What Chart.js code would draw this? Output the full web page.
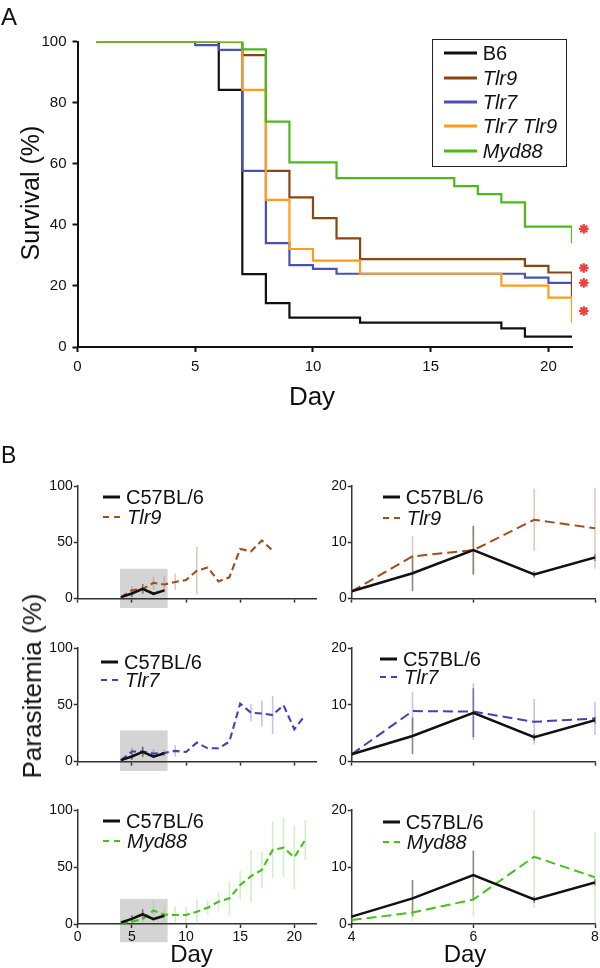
<!DOCTYPE html>
<html>
<head>
<meta charset="utf-8">
<title>Survival and parasitemia</title>
<script src="https://cdn.jsdelivr.net/npm/chart.js@4.4.1/dist/chart.umd.min.js"></script>
<style>
  body { margin: 0; background: #fff; }
  #page { position: relative; width: 600px; height: 968px; overflow: hidden;
          font-family: 'Liberation Sans', Arial, Helvetica, sans-serif; color: #111; }
  #page canvas { position: absolute; }
  .txt { position: absolute; white-space: nowrap; line-height: 1; }
  .mid { transform: translate(-50%, -50%); }
  .vmid { transform: translateY(-50%); }
  .rot { transform: translate(-50%, -50%) rotate(-90deg); }
  .legbox { position: absolute; border: 1.5px solid #222; box-sizing: border-box; }
  svg { position: absolute; overflow: visible; }
</style>
</head>
<body>
<div id="page"></div>
<script>
// ---------- A: survival, Kaplan-Meier steps (day of drop, % alive from then on)
const survStart = 0.8;
const b6Days    = [survStart, 6, 7, 8, 9, 12, 18, 19, 21];
const b6Surv    = [100, 84.2, 23.9, 14.4, 9.6, 8, 6.1, 3.4, 3.4];
const tlr9Days  = [survStart, 7, 8, 9, 10, 11, 12, 19, 20, 21];
const tlr9Surv  = [100, 95.6, 57.7, 49, 42.2, 35.6, 28.8, 26.6, 24.4, 16.5];
const tlr7Days  = [survStart, 5, 6, 7, 8, 9, 10, 11, 19, 20, 21];
const tlr7Surv  = [100, 98.9, 97.3, 57.7, 34, 26.8, 25.6, 24, 22.7, 21, 18];
const dkoDays   = [survStart, 7, 8, 9, 10, 12, 18, 20, 21];
const dkoSurv   = [100, 84.2, 48.2, 32.1, 28.3, 24, 20.1, 16.2, 8];
const myd88Days = [survStart, 7, 8, 9, 11, 16, 17, 18, 19, 21];
const myd88Surv = [100, 97.5, 73.8, 60.5, 55.3, 52.7, 50.1, 47.4, 39.4, 34];
const sigDay  = 21.5;
const sigSurv = [38.7, 25.9, 21, 11.8];
const survXTicks = [0, 5, 10, 15, 20];
const survYTicks = [0, 20, 40, 60, 80, 100];
const survLegend = ['B6', 'Tlr9', 'Tlr7', 'Tlr7 Tlr9', 'Myd88'];

// ---------- B: parasitemia, mean and SD per day
const paraDays     = [4, 5, 6, 7, 8, 9, 10, 11, 12, 13, 14, 15, 16, 17, 18, 19, 20, 21];
const b6Para       = [1.3, 4.5, 8.6, 4.3, 7.3];
const b6ParaErr    = [0.3, 3.2, 4.3, 0.6, 0.6];
const tlr9Para     = [1.3, 7.5, 8.6, 14, 12.5, 14.8, 16.5, 24.8, 27.7, 15.3, 18.9, 44, 42, 51.6, 42.5];
const tlr9ParaErr  = [0.3, 3.6, 4.4, 5.5, 7.2, 7.2, 1, 21, 0, 0, 0, 0, 0, 0, 0];
const tlr7Para     = [1.3, 8.9, 8.8, 7, 7.6, 9.4, 8.5, 16.7, 11.7, 11.7, 17.5, 51, 43, 42.4, 41, 49.7, 28.4, 41];
const tlr7ParaErr  = [0.3, 3.4, 5, 4, 2.9, 5, 0, 0, 0, 0, 0, 0, 7.8, 11.4, 16.8, 0, 0, 0];
const myd88Para    = [0.7, 2, 4.3, 11.8, 8.2, 7.9, 7.9, 10.8, 14.3, 19.6, 22.5, 34.2, 42, 47.4, 65, 67, 58.5, 73.7];
const myd88ParaErr = [0.3, 1.5, 3, 9, 8, 7.3, 7, 10.5, 6, 8, 15, 12.5, 23, 16, 25, 26, 28, 17.5];
const paraXTicks = [0, 5, 10, 15, 20];
const paraYTicks = [0, 50, 100];
const zoomXTicks = [4, 6, 8];
const zoomYTicks = [0, 10, 20];
const zoomBoxDays = [3.9, 8.3];
const zoomBoxPct  = [[-14, 26.5], [-12, 27.5], [-16, 22]];

const page = document.getElementById('page');
const FONT = "'Liberation Sans', Arial, Helvetica, sans-serif";
Chart.defaults.font.family = FONT;
Chart.defaults.color = '#111';
Chart.defaults.animation = false;
Chart.defaults.plugins.legend.display = false;
Chart.defaults.plugins.tooltip.enabled = false;

const toXY = (xs, ys) => ys.map((y, i) => ({ x: xs[i], y }));

// grey rectangle marking the zoomed days, drawn under the axes
const zoomBox = {
  id: 'zoomBox',
  beforeDraw(chart, args, opts) {
    if (!opts.days) return;
    const { ctx, scales: { x, y } } = chart;
    const x0 = x.getPixelForValue(opts.days[0]), x1 = x.getPixelForValue(opts.days[1]);
    const y0 = y.getPixelForValue(opts.pct[1]), y1 = y.getPixelForValue(opts.pct[0]);
    ctx.save();
    ctx.fillStyle = opts.color;
    ctx.fillRect(x0, y0, x1 - x0, y1 - y0);
    ctx.restore();
  }
};

// vertical SD bars, behind the lines
const errorBars = {
  id: 'errorBars',
  beforeDatasetsDraw(chart) {
    const { ctx, chartArea: a, scales: { x, y } } = chart;
    ctx.save();
    ctx.beginPath();
    ctx.rect(a.left - 3, a.top, a.right - a.left + 6, a.bottom - a.top);
    ctx.clip();
    chart.data.datasets.forEach(ds => {
      if (!ds.errors) return;
      ctx.beginPath();
      ds.data.forEach((p, j) => {
        const e = ds.errors[j];
        if (!e || p.x < x.min || p.x > x.max) return;
        const px = x.getPixelForValue(p.x);
        ctx.moveTo(px, y.getPixelForValue(p.y - e));
        ctx.lineTo(px, y.getPixelForValue(p.y + e));
      });
      ctx.strokeStyle = ds.errorColor;
      ctx.lineWidth = 1.6;
      ctx.stroke();
    });
    ctx.restore();
  }
};

// red significance asterisks at the end of the survival curves
const sigStars = {
  id: 'sigStars',
  afterDatasetsDraw(chart, args, opts) {
    if (!opts.values) return;
    const { ctx, scales: { x, y } } = chart;
    const px = x.getPixelForValue(opts.day);
    ctx.save();
    ctx.strokeStyle = opts.color;
    ctx.lineWidth = 2.2;
    opts.values.forEach(v => {
      const py = y.getPixelForValue(v);
      ctx.beginPath();
      for (let k = 0; k < 4; k++) {
        const ang = k * Math.PI / 4, dx = Math.cos(ang) * opts.radius, dy = Math.sin(ang) * opts.radius;
        ctx.moveTo(px - dx, py - dy);
        ctx.lineTo(px + dx, py + dy);
      }
      ctx.stroke();
    });
    ctx.restore();
  }
};

Chart.register(zoomBox, errorBars, sigStars);

function axis(min, max, ticks, o) {
  return {
    type: 'linear', min, max,
    afterBuildTicks: s => { s.ticks = ticks.map(value => ({ value })); },
    afterFit: s => { if (s.isHorizontal()) s.height = o.size; else s.width = o.size; },
    grid: { display: true, drawOnChartArea: false, drawTicks: true,
            tickLength: o.tick, tickWidth: o.lw, tickColor: o.color },
    border: { display: true, color: o.color, width: o.lw },
    ticks: { display: o.labels !== false, padding: o.pad, font: { size: o.font },
             color: '#111', maxRotation: 0, autoSkip: false }
  };
}

// rect: canvas [left, top, w, h]; area: wanted chart area [l, t, r, b]
function mount(rect, area, yW, xH, config) {
  const cv = document.createElement('canvas');
  cv.width = rect[2]; cv.height = rect[3];
  Object.assign(cv.style, { left: rect[0] + 'px', top: rect[1] + 'px',
                            width: rect[2] + 'px', height: rect[3] + 'px' });
  page.appendChild(cv);
  config.options.responsive = false;
  config.options.maintainAspectRatio = false;
  config.options.layout = { padding: {
    left: area[0] - rect[0] - yW, top: area[1] - rect[1],
    right: rect[0] + rect[2] - area[2], bottom: rect[1] + rect[3] - area[3] - xH } };
  return new Chart(cv, config);
}

function text(html, x, y, size, cls, style) {
  const d = document.createElement('div');
  d.className = 'txt ' + (cls || '');
  d.innerHTML = html;
  Object.assign(d.style, { left: x + 'px', top: y + 'px', fontSize: size + 'px' }, style || {});
  page.appendChild(d);
  return d;
}

function sampleLine(x, y, w, color, lw, dash) {
  const ns = 'http://www.w3.org/2000/svg';
  const s = document.createElementNS(ns, 'svg');
  s.setAttribute('width', w); s.setAttribute('height', 6);
  s.style.left = x + 'px'; s.style.top = (y - 3) + 'px';
  const l = document.createElementNS(ns, 'line');
  l.setAttribute('x1', 0); l.setAttribute('y1', 3); l.setAttribute('x2', w); l.setAttribute('y2', 3);
  l.setAttribute('stroke', color); l.setAttribute('stroke-width', lw);
  if (dash) l.setAttribute('stroke-dasharray', dash);
  s.appendChild(l);
  page.appendChild(s);
}

// ---------- panel A (first dataset is drawn on top)
const survSeries = [
  { label: 'Myd88', days: myd88Days, vals: myd88Surv, color: '#4cbb17', italic: true },
  { label: 'Tlr7 Tlr9', days: dkoDays, vals: dkoSurv, color: '#ff9c1a', italic: true },
  { label: 'Tlr9', days: tlr9Days, vals: tlr9Surv, color: '#8a4513', italic: true },
  { label: 'Tlr7', days: tlr7Days, vals: tlr7Surv, color: '#4b50b8', italic: true },
  { label: 'B6', days: b6Days, vals: b6Surv, color: '#111111', italic: false }
];
const axA = { size: 0, tick: 5, lw: 2, color: '#111', pad: 6, font: 15 };

mount([0, 0, 600, 385], [77.5, 41.7, 572, 347], 77.5, 30, {
  type: 'line',
  data: { datasets: survSeries.map(s => ({
    label: s.label, data: toXY(s.days, s.vals), borderColor: s.color, borderWidth: 2.2,
    stepped: 'before', pointRadius: 0, fill: false, borderJoinStyle: 'miter'
  })) },
  options: {
    scales: {
      x: axis(0, 21, survXTicks, { ...axA, size: 30 }),
      y: axis(0, 100, survYTicks, { ...axA, size: 77.5 })
    },
    plugins: { sigStars: { day: sigDay, values: sigSurv, color: '#f04040', radius: 4.8 } }
  }
});

text('A', 1, 4.5, 24);
text('Survival (%)', 30, 193, 25, 'rot');
text('Day', 312, 396, 26, 'mid');

const legA = document.createElement('div');
legA.className = 'legbox';
Object.assign(legA.style, { left: '431.7px', top: '39px', width: '135px', height: '127.7px' });
page.appendChild(legA);
survLegend.forEach((name, i) => {
  const s = survSeries.find(d => d.label === name);
  const y = 53.3 + i * 24.35;
  sampleLine(443.7, y, 33, s.color, 3);
  text(s.label, 482.7, y, 20, 'vmid', { fontStyle: s.italic ? 'italic' : 'normal' });
});

// ---------- panel B
const koSeries = [
  { label: 'Tlr9', vals: tlr9Para, errs: tlr9ParaErr, color: '#9e4f1c', err: 'rgba(185,120,80,0.40)' },
  { label: 'Tlr7', vals: tlr7Para, errs: tlr7ParaErr, color: '#3f44b5', err: 'rgba(80,85,210,0.35)' },
  { label: 'Myd88', vals: myd88Para, errs: myd88ParaErr, color: '#46c01b', err: 'rgba(120,215,90,0.35)' }
];
const rowTop = [486, 647.7, 810];
const rowBottom = [599, 761.7, 924];
const legLeft = [[103, 497, 20], [101, 661.7, 17.8], [103, 820.7, 20.3]];
const legRight = [[382.7, 496.7, 21], [380, 659.3, 18], [382.7, 821.7, 20]];
const axB = { tick: 4, lw: 1.5, color: '#333', pad: 1, font: 14 };

function paraDatasets(ko, lw, dash) {
  return [
    { data: toXY(paraDays, b6Para), borderColor: '#111', borderWidth: lw + 0.5, pointRadius: 0,
      errors: b6ParaErr, errorColor: 'rgba(40,40,40,0.55)' },
    { data: toXY(paraDays, ko.vals), borderColor: ko.color, borderWidth: lw, borderDash: dash,
      pointRadius: 0, errors: ko.errs, errorColor: ko.err }
  ];
}

koSeries.forEach((ko, i) => {
  const last = i === koSeries.length - 1;
  const xH = last ? 24 : 5;
  const t = rowTop[i], b = rowBottom[i];
  const h = Math.ceil(b + xH + 4 - (t - 16));

  mount([0, t - 16, 325, h], [77.7, t, 316, b], 77.7, xH, {
    type: 'line',
    data: { datasets: paraDatasets(ko, 2.1, [7, 4]) },
    options: {
      scales: {
        x: axis(0, 22, paraXTicks, { ...axB, size: xH, labels: last }),
        y: axis(0, 100, paraYTicks, { ...axB, size: 77.7 })
      },
      plugins: { zoomBox: { days: zoomBoxDays, pct: zoomBoxPct[i], color: '#d4d4d4' } }
    }
  });

  mount([300, t - 16, 300, h], [351.7, t, 595, b], 51.7, xH, {
    type: 'line',
    data: { datasets: paraDatasets(ko, 2, [10, 5]) },
    options: {
      scales: {
        x: axis(4, 8, zoomXTicks, { ...axB, size: xH, labels: last }),
        y: axis(0, 20, zoomYTicks, { ...axB, size: 51.7 })
      }
    }
  });

  [legLeft[i], legRight[i]].forEach(([lx, ly, gap]) => {
    sampleLine(lx, ly, 17, '#111', 3);
    text('C57BL/6', lx + 23, ly, 20, 'vmid');
    sampleLine(lx, ly + gap, 17, ko.color, 2.2, '6 5');
    text(ko.label, lx + 24, ly + gap, 20, 'vmid', { fontStyle: 'italic' });
  });
});

text('B', 1, 444, 23);
text('Parasitemia (%)', 32, 686, 26, 'rot');
text('Day', 191.5, 954, 24, 'mid');
text('Day', 465, 954, 24, 'mid');
</script>
</body>
</html>
